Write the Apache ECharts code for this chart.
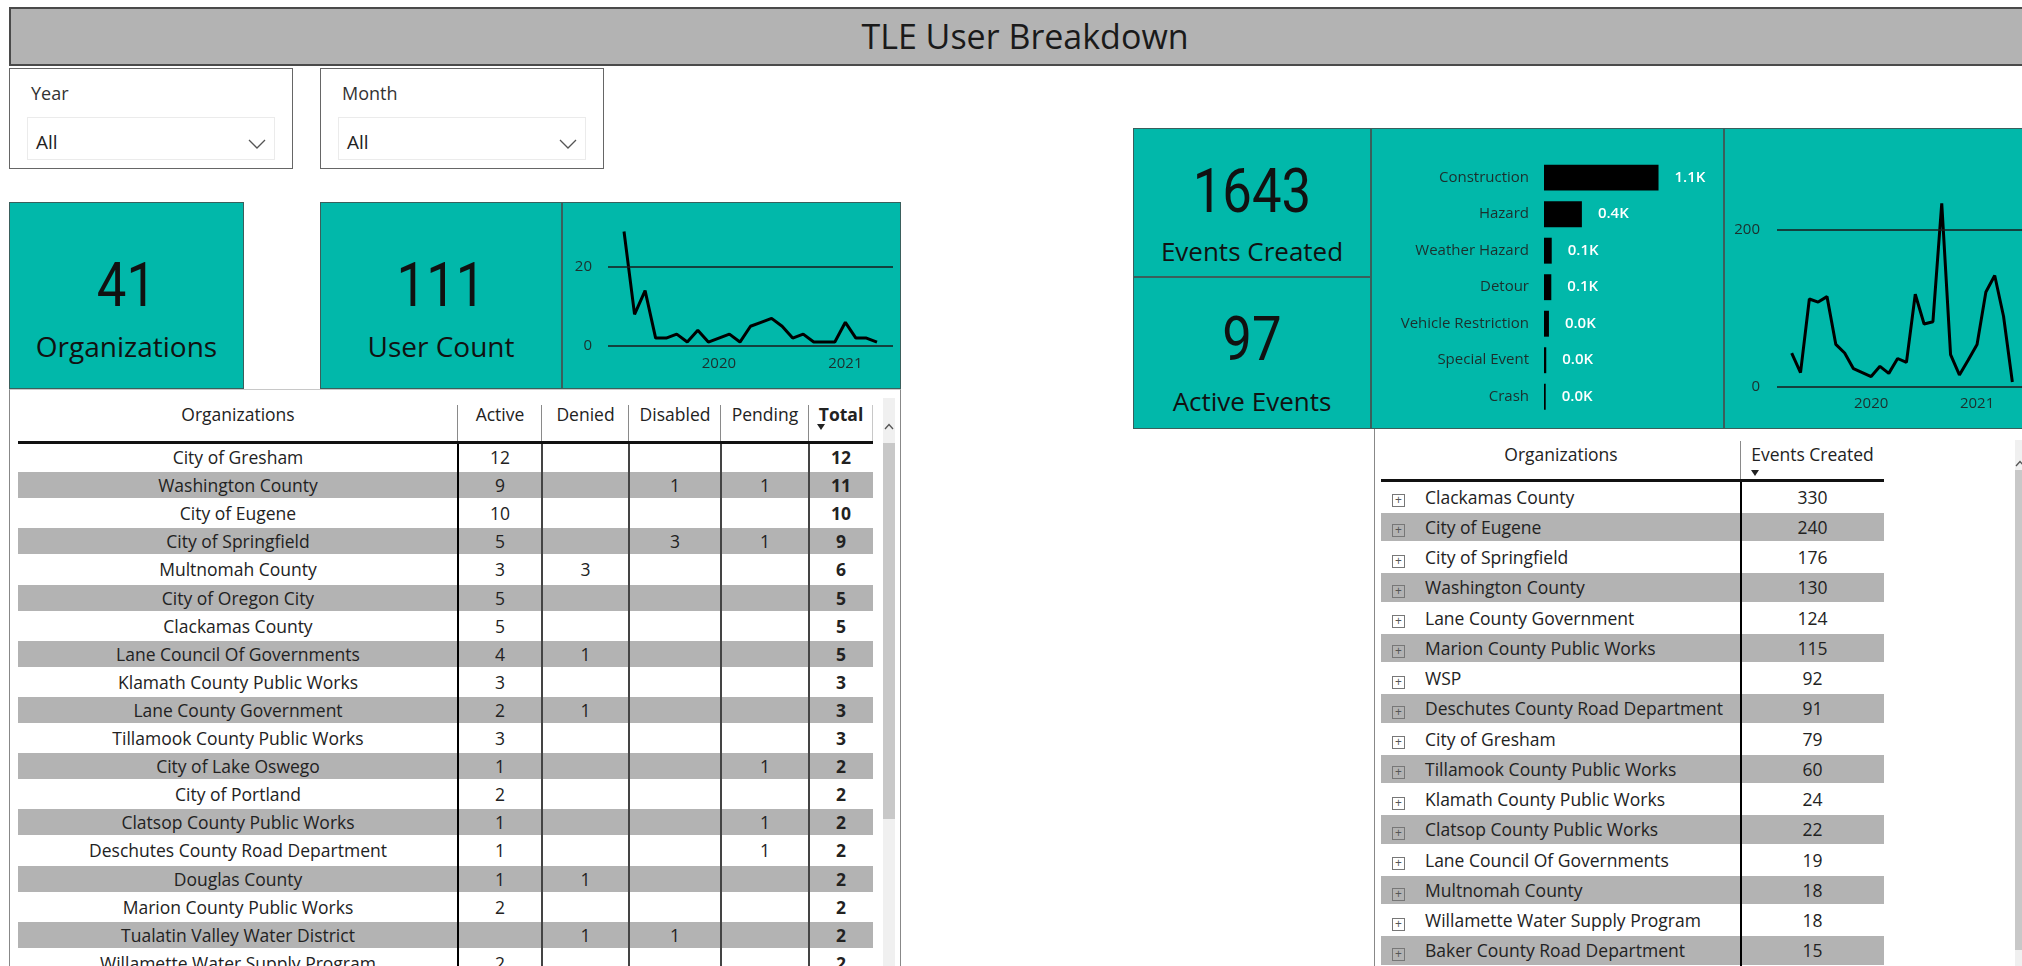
<!DOCTYPE html>
<html lang="en">
<head>
    <meta charset="UTF-8">
    <title>TLE User Breakdown</title>
    <style>
        body { margin: 0; width: 2022px; height: 966px; overflow: hidden; position: relative; background: #fff; font-family: "Open Sans", sans-serif; color: #222; }
        .abs { position: absolute; box-sizing: border-box; white-space: nowrap; }
        .c { text-align: center; }
        .l { text-align: left; }
        .b { font-weight: 700; }
    </style>
</head>
<body>
<script src="https://cdn.jsdelivr.net/npm/echarts/dist/echarts.min.js"></script>
<script>
    // ---- data ----
    var orgCount = 41, userCount = 111, eventsCreated = 1643, activeEvents = 97;

    var userMonths = ['2019-04', '2019-05', '2019-06', '2019-07', '2019-08', '2019-09', '2019-10', '2019-11', '2019-12',
        '2020-01', '2020-02', '2020-03', '2020-04', '2020-05', '2020-06', '2020-07', '2020-08', '2020-09', '2020-10',
        '2020-11', '2020-12', '2021-01', '2021-02', '2021-03', '2021-04'];
    var newUsers = [29, 8, 14, 2, 2, 3, 1, 4, 1, 2, 3, 1, 5, 6, 7, 5, 2, 3, 1, 1, 1, 6, 2, 2, 1];
    var userTicks = [0, 20];

    var eventMonths = ['2019-04', '2019-05', '2019-06', '2019-07', '2019-08', '2019-09', '2019-10', '2019-11', '2019-12',
        '2020-01', '2020-02', '2020-03', '2020-04', '2020-05', '2020-06', '2020-07', '2020-08', '2020-09', '2020-10',
        '2020-11', '2020-12', '2021-01', '2021-02', '2021-03', '2021-04', '2021-05'];
    var eventsByMonth = [43, 18, 112, 108, 115, 54, 43, 23, 18, 13, 26, 17, 36, 31, 118, 80, 83, 234, 41, 15, 34, 54, 121, 142, 90, 6];
    var eventTicks = [0, 200];

    var yearLabels = ['2020', '2021'];

    var eventTypes = ['Construction', 'Hazard', 'Weather Hazard', 'Detour', 'Vehicle Restriction', 'Special Event', 'Crash'];
    var eventTypeCounts = [1067, 353, 72, 68, 46, 21, 16];

    var userOrgs = ['City of Gresham', 'Washington County', 'City of Eugene', 'City of Springfield', 'Multnomah County',
        'City of Oregon City', 'Clackamas County', 'Lane Council Of Governments', 'Klamath County Public Works',
        'Lane County Government', 'Tillamook County Public Works', 'City of Lake Oswego', 'City of Portland',
        'Clatsop County Public Works', 'Deschutes County Road Department', 'Douglas County', 'Marion County Public Works',
        'Tualatin Valley Water District', 'Willamette Water Supply Program'];
    var activeUsers = [12, 9, 10, 5, 3, 5, 5, 4, 3, 2, 3, 1, 2, 1, 1, 1, 2, null, 2];
    var deniedUsers = [null, null, null, null, 3, null, null, 1, null, 1, null, null, null, null, null, 1, null, 1, null];
    var disabledUsers = [null, 1, null, 3, null, null, null, null, null, null, null, null, null, null, null, null, null, 1, null];
    var pendingUsers = [null, 1, null, 1, null, null, null, null, null, null, null, 1, null, 1, 1, null, null, null, null];
    var totalUsers = [12, 11, 10, 9, 6, 5, 5, 5, 3, 3, 3, 2, 2, 2, 2, 2, 2, 2, 2];

    var eventOrgs = ['Clackamas County', 'City of Eugene', 'City of Springfield', 'Washington County',
        'Lane County Government', 'Marion County Public Works', 'WSP', 'Deschutes County Road Department',
        'City of Gresham', 'Tillamook County Public Works', 'Klamath County Public Works', 'Clatsop County Public Works',
        'Lane Council Of Governments', 'Multnomah County', 'Willamette Water Supply Program', 'Baker County Road Department'];
    var orgEvents = [330, 240, 176, 130, 124, 115, 92, 91, 79, 60, 24, 22, 19, 18, 18, 15];

    // ---- helpers ----
    var teal = '#01b8aa', cardBorder = 'border:1.5px solid #3a5f5c;background:' + teal;
    var cellFont = 'font-size:17.5px;color:#222';

    function el(cls, x, y, w, h, css) {
        var d = document.createElement('div');
        d.className = 'abs ' + (cls || '');
        d.style.left = x + 'px';
        d.style.top = y + 'px';
        d.style.width = w + 'px';
        d.style.height = h + 'px';
        if (css) d.style.cssText += ';' + css;
        document.body.appendChild(d);
        return d;
    }

    function txt(str, x0, x1, cy, h, cls, css) {
        var d = el(cls, x0, cy - h / 2, x1 - x0, h, 'line-height:' + h + 'px;' + (css || ''));
        d.textContent = str;
        return d;
    }

    function chevron(x, y, up) {
        var d = el('', x, y, 18, 10, '');
        d.innerHTML = up
            ? '<svg width="10" height="7"><polyline points="1,6 5,1.5 9,6" fill="none" stroke="#555" stroke-width="1.3"/></svg>'
            : '<svg width="18" height="10"><polyline points="1,1 9,9 17,1" fill="none" stroke="#555" stroke-width="1.3"/></svg>';
    }

    function monthIndex(m) {
        var p = m.split('-');
        return (+p[0] - 2019) * 12 + (+p[1] - 1);
    }

    function yearIndex(y) {
        return (+y - 2019) * 12;
    }

    // ---- title + slicers ----
    txt('TLE User Breakdown', 9, 2041, 36.5, 59, 'c', 'background:#b3b3b3;border:2px solid #4a4a4a;font-size:34px;color:#1a1a1a;line-height:55px');

    ['Year', 'Month'].forEach(function (name, i) {
        var x = 9 + i * 311;
        el('', x, 68, 284, 101, 'border:1.5px solid #666;background:#fff');
        txt(name, x + 22, x + 200, 93, 26, 'l', 'font-size:18px;color:#333');
        el('', x + 18, 117, 248, 43, 'border:1px solid #ebebeb');
        txt('All', x + 27, x + 100, 142, 26, 'l', 'font-size:19px;color:#222');
        chevron(x + 239, 132, false);
    });

    // ---- cards ----
    function kpi(x, y, w, h, value, label, numCy, lblCy, lblSize) {
        el('', x, y, w, h, cardBorder);
        txt(String(value), x, x + w, numCy, 70, 'c', 'font-family:Roboto,sans-serif;font-size:62px;color:#111;transform:scaleX(0.85)');
        txt(label, x, x + w, lblCy, 40, 'c', 'font-size:' + lblSize + 'px;color:#111');
    }

    kpi(9, 202, 235, 187, orgCount, 'Organizations', 285, 346, 28);
    kpi(320, 202, 242, 187, userCount, 'User Count', 285, 346, 28);
    el('', 562, 202, 339, 187, cardBorder);
    kpi(1133, 128, 238, 149, eventsCreated, 'Events Created', 191, 251, 26);
    kpi(1133, 277, 238, 152, activeEvents, 'Active Events', 339, 401, 26);
    el('', 1371, 128, 353, 301, cardBorder);
    el('', 1724, 128, 340, 301, cardBorder);

    // ---- user status table ----
    el('', 9, 389, 892, 620, 'border:1.5px solid #888;border-top-color:#c8c8c8');
    var uCols = [18, 458, 542, 629, 721, 809, 873];
    ['Organizations', 'Active', 'Denied', 'Disabled', 'Pending', 'Total'].forEach(function (h, j) {
        txt(h, uCols[j], uCols[j + 1], 414, 30, 'c' + (j === 5 ? ' b' : ''), cellFont);
    });
    el('', 817, 424, 9, 6, 'width:0;height:0;border-left:4.5px solid transparent;border-right:4.5px solid transparent;border-top:6px solid #222');

    var uTop = 443, uRowH = 28.1;
    userOrgs.forEach(function (org, i) {
        var top = uTop + i * uRowH, cy = top + uRowH / 2;
        if (i % 2) el('', 18, top + 1, 855, uRowH - 2, 'background:#b3b3b3');
        var vals = [org, activeUsers[i], deniedUsers[i], disabledUsers[i], pendingUsers[i], totalUsers[i]];
        vals.forEach(function (v, j) {
            if (v === null) return;
            txt(String(v), uCols[j], uCols[j + 1], cy, uRowH, 'c' + (j === 5 ? ' b' : ''), cellFont);
        });
    });
    uCols.slice(1, 6).forEach(function (x, j) {
        el('', x - 1, 405, 1, 36, 'background:#8a8a8a');
        el('', x - 1, 443, j === 0 ? 2 : 1.5, 530, 'background:' + (j === 0 ? '#000' : '#444'));
    });
    el('', 872, 405, 1, 36, 'background:#c8c8c8');
    el('', 18, 441, 855, 3, 'background:#111');
    el('', 883, 398, 12, 570, 'background:#f0f0f0');
    el('', 883, 443, 12, 376, 'background:#c8c8c8');
    chevron(884, 413, true);

    // ---- events by organization table ----
    el('', 1374, 429, 700, 560, 'border-left:1.5px solid #888');
    txt('Organizations', 1381, 1741, 454, 30, 'c', cellFont);
    txt('Events Created', 1741, 1884, 454, 30, 'c', cellFont);
    el('', 1751, 470, 9, 6, 'width:0;height:0;border-left:4.5px solid transparent;border-right:4.5px solid transparent;border-top:6px solid #222');

    var eTop = 481.5, eRowH = 30.26;
    eventOrgs.forEach(function (org, i) {
        var top = eTop + i * eRowH, cy = top + eRowH / 2;
        if (i % 2) el('', 1381, top + 1, 503, eRowH - 2, 'background:#b3b3b3');
        var ic = el('c', 1392, cy - 2.5, 13, 13, 'border:1px solid #777;font-size:12px;line-height:10px;color:#555');
        ic.textContent = '+';
        txt(org, 1425, 1741, cy, eRowH, 'l', cellFont);
        txt(String(orgEvents[i]), 1741, 1884, cy, eRowH, 'c', cellFont);
    });
    el('', 1740, 441, 1, 38, 'background:#8a8a8a');
    el('', 1740, 481, 2, 490, 'background:#000');
    el('', 1381, 479, 503, 3, 'background:#111');
    el('', 2015, 440, 12, 530, 'background:#f0f0f0');
    el('', 2015, 470, 12, 480, 'background:#c8c8c8');
    chevron(2015, 450, true);

    // ---- charts ----
    var axisColor = '#1c2f2d';

    function trendOption(months, values, ticks, yMax, xMin, xMax, grid, yMargin) {
        return {
            animation: false,
            textStyle: {fontFamily: '"Open Sans", sans-serif'},
            grid: Object.assign({outerBoundsMode: 'none', containLabel: false}, grid),
            xAxis: {
                type: 'value', min: xMin, max: xMax,
                axisLine: {show: false}, axisTick: {show: false}, splitLine: {show: false},
                axisLabel: {
                    customValues: yearLabels.map(yearIndex),
                    formatter: function (v) { return yearLabels[yearIndex(yearLabels[0]) === v ? 0 : 1]; },
                    color: axisColor, fontSize: 15, margin: 10
                }
            },
            yAxis: {
                type: 'value', min: 0, max: yMax,
                axisLine: {show: false}, axisTick: {show: false}, splitLine: {show: false},
                axisLabel: {customValues: ticks, color: axisColor, fontSize: 15, margin: yMargin}
            },
            series: [{
                type: 'line',
                data: months.map(function (m, i) { return [monthIndex(m), values[i]]; }),
                symbol: 'none',
                lineStyle: {color: '#000', width: 3},
                markLine: {
                    silent: true, symbol: ['none', 'none'], label: {show: false},
                    lineStyle: {color: '#1a1a1a', width: 1.5, type: 'solid'},
                    data: ticks.map(function (t) { return {yAxis: t}; })
                }
            }]
        };
    }

    var userDiv = el('', 562, 202, 339, 187, '');
    var userChart = echarts.init(userDiv);
    userChart.setOption(trendOption(userMonths, newUsers, userTicks, 30, 1.48, 28.52,
        {left: 46, right: 8, top: 25.5, bottom: 43}, 16));

    var eventDiv = el('', 1724, 128, 340, 301, '');
    var eventChart = echarts.init(eventDiv);
    eventChart.setOption(trendOption(eventMonths, eventsByMonth, eventTicks, 300, 1.335, 29.5,
        {left: 53, right: 38.4, top: 23.7, bottom: 42.3}, 17));

    var typeDiv = el('', 1371, 128, 353, 301, '');
    var typeChart = echarts.init(typeDiv);
    typeChart.setOption({
        animation: false,
        textStyle: {fontFamily: '"Open Sans", sans-serif'},
        grid: {left: 173, right: 19, top: 31.4, bottom: 14, outerBoundsMode: 'none', containLabel: false},
        xAxis: {type: 'value', min: 0, max: 1500, show: false},
        yAxis: {
            type: 'category', inverse: true, data: eventTypes,
            axisLine: {show: false}, axisTick: {show: false},
            axisLabel: {color: axisColor, fontSize: 15, margin: 15}
        },
        series: [{
            type: 'bar',
            data: eventTypeCounts,
            barCategoryGap: '29%',
            itemStyle: {color: '#000'},
            label: {
                show: true, position: 'right', distance: 16,
                color: '#fff', fontSize: 15, fontWeight: 600,
                formatter: function (p) { return (p.value / 1000).toFixed(1) + 'K'; }
            }
        }]
    });
</script>
</body>
</html>
